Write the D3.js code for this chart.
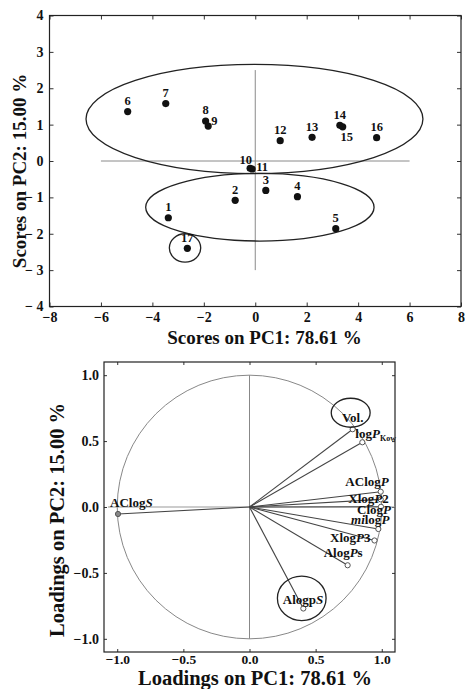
<!DOCTYPE html>
<html>
<head>
<meta charset="utf-8">
<script src="https://cdn.jsdelivr.net/npm/d3@7"></script>
<style>
  body { margin: 0; background: #fff; }
  svg text { font-family: "Liberation Serif", "DejaVu Serif", serif; font-weight: bold; fill: #111; }
</style>
</head>
<body>
<div id="chart"></div>
<script>
// score plot data (PC1, PC2)
const scoreIds = [1, 2, 3, 4, 5, 6, 7, 8, 9, 10, 11, 12, 13, 14, 15, 16, 17]
const scorePC1 = [-3.38, -0.78, 0.41, 1.64, 3.13, -4.96, -3.48, -1.93, -1.83, -0.2, -0.12, 0.97, 2.21, 3.29, 3.4, 4.72, -2.64]
const scorePC2 = [-1.56, -1.08, -0.81, -0.98, -1.86, 1.36, 1.58, 1.1, 0.96, -0.2, -0.22, 0.56, 0.65, 0.98, 0.94, 0.64, -2.4]

// group ellipses on the score plot: centre x, centre y, half width, half height
const groupCx = [-0.03, 0.18, -2.73]
const groupCy = [1.155, -1.27, -2.39]
const groupRx = [6.55, 4.44, 0.61]
const groupRy = [1.5, 0.93, 0.39]

const scoreTicksX = [-8, -6, -4, -2, 0, 2, 4, 6, 8]
const scoreTicksY = [-4, -3, -2, -1, 0, 1, 2, 3, 4]

// loading plot data
const loadNames = ["AClogS", "Vol.", "logPKow", "AClogP", "XlogP2", "ClogP", "milogP", "XlogP3", "AlogPs", "AlogpS"]
const loadPC1 = [-0.994, 0.78, 0.853, 0.992, 0.992, 0.994, 0.974, 0.945, 0.742, 0.407]
const loadPC2 = [-0.053, 0.59, 0.491, 0.116, 0.058, 0.002, -0.167, -0.254, -0.442, -0.77]
// label pieces: [text, style]  (i = italic, sub = subscript)
const loadLabels = [
  [["AClog", ""], ["S", "i"]],
  [["Vol.", ""]],
  [["log", ""], ["P", "i"], ["Kow", "sub"]],
  [["AClog", ""], ["P", "i"]],
  [["Xlog", ""], ["P", "i"], ["2", ""]],
  [["Clog", ""], ["P", "i"]],
  [["mi", "i"], ["log", ""], ["P", "i"]],
  [["Xlog", ""], ["P", "i"], ["3", ""]],
  [["Alog", ""], ["P", "i"], ["s", ""]],
  [["Alogp", ""], ["S", "i"]]
]
// highlight circles on loading plot
const markCx = [0.765, 0.395]
const markCy = [0.715, -0.693]
const markRx = [0.147, 0.184]
const markRy = [0.11, 0.169]

const loadTicks = [-1, -0.5, 0, 0.5, 1]

const W = 465, H = 689

const svg = d3.select("#chart").append("svg")
  .attr("width", W).attr("height", H)

// ---------- top: scores ----------
const x1 = d3.scaleLinear().domain([-8, 8]).range([49.5, 461])
const y1 = d3.scaleLinear().domain([-4, 4]).range([306.5, 15.5])

const g1 = svg.append("g")

const minusY = d => d < 0 ? "\u2212 " + (-d) : String(d)
const minusX = d => d < 0 ? "\u2212" + (-d) : String(d)

const ax1b = g1.append("g").attr("transform", `translate(0,${y1(-4)})`)
  .call(d3.axisBottom(x1).tickValues(scoreTicksX).tickFormat(minusX).tickSizeInner(-4).tickSizeOuter(0).tickPadding(6))
const ax1l = g1.append("g").attr("transform", `translate(${x1(-8)},0)`)
  .call(d3.axisLeft(y1).tickValues(scoreTicksY).tickFormat(minusY).tickSizeInner(-4).tickSizeOuter(0).tickPadding(6))
const ax1t = g1.append("g").attr("transform", `translate(0,${y1(4)})`)
  .call(d3.axisTop(x1).tickValues(scoreTicksX).tickFormat("").tickSizeInner(-4).tickSizeOuter(0))
const ax1r = g1.append("g").attr("transform", `translate(${x1(8)},0)`)
  .call(d3.axisRight(y1).tickValues(scoreTicksY).tickFormat("").tickSizeInner(-4).tickSizeOuter(0))

;[ax1b, ax1l, ax1t, ax1r].forEach(a => {
  a.select(".domain").remove()
  a.selectAll("line").attr("stroke", "#333")
  a.selectAll("text").attr("font-size", 14).attr("fill", "#111")
})

g1.append("rect")
  .attr("x", x1(-8)).attr("y", y1(4))
  .attr("width", x1(8) - x1(-8)).attr("height", y1(-4) - y1(4))
  .attr("fill", "none").attr("stroke", "#222").attr("stroke-width", 1.2)

// cross lines
g1.append("line")
  .attr("x1", x1(-6)).attr("x2", x1(6)).attr("y1", y1(0)).attr("y2", y1(0))
  .attr("stroke", "#8a8a8a").attr("stroke-width", 1)
g1.append("line")
  .attr("x1", x1(0)).attr("x2", x1(0)).attr("y1", y1(2.5)).attr("y2", y1(-3))
  .attr("stroke", "#8a8a8a").attr("stroke-width", 1)

// group ellipses
g1.selectAll("ellipse.grp")
  .data(groupCx.map((c, i) => ({ cx: c, cy: groupCy[i], rx: groupRx[i], ry: groupRy[i] })))
  .enter().append("ellipse")
  .attr("class", "grp")
  .attr("cx", d => x1(d.cx)).attr("cy", d => y1(d.cy))
  .attr("rx", d => x1(d.rx) - x1(0)).attr("ry", d => y1(0) - y1(d.ry))
  .attr("fill", "none").attr("stroke", "#222").attr("stroke-width", 1.3)

const scores = scoreIds.map((id, i) => ({ id, pc1: scorePC1[i], pc2: scorePC2[i] }))

g1.selectAll("circle.pt")
  .data(scores)
  .enter().append("circle")
  .attr("class", "pt")
  .attr("cx", d => x1(d.pc1)).attr("cy", d => y1(d.pc2))
  .attr("r", 3.6)
  .attr("fill", "#111")

// label placement: default centred above the dot
const nudge = {
  9: { anchor: "start", dx: 3, dy: -1 },
  10: { anchor: "end", dx: 2, dy: -4 },
  11: { anchor: "start", dx: 4, dy: 2 },
  15: { anchor: "middle", dx: 4, dy: 14 }
}
g1.selectAll("text.lbl")
  .data(scores)
  .enter().append("text")
  .attr("class", "lbl")
  .attr("x", d => x1(d.pc1) + (nudge[d.id] ? nudge[d.id].dx : 0))
  .attr("y", d => y1(d.pc2) + (nudge[d.id] ? nudge[d.id].dy : -6.5))
  .attr("text-anchor", d => nudge[d.id] ? nudge[d.id].anchor : "middle")
  .attr("font-size", 12.5)
  .text(d => d.id)

g1.append("text")
  .attr("x", 264.5).attr("y", 344)
  .attr("text-anchor", "middle")
  .attr("font-size", 19)
  .text("Scores on PC1: 78.61 %")

g1.append("text")
  .attr("transform", `translate(26, ${(y1(4) + y1(-4)) / 2 + 10}) rotate(-90)`)
  .attr("text-anchor", "middle")
  .attr("font-size", 19)
  .text("Scores on PC2: 15.00 %")

// ---------- bottom: loadings ----------
const x2 = d3.scaleLinear().domain([-1.1, 1.1]).range([104, 395])
const y2 = d3.scaleLinear().domain([-1.1, 1.1]).range([652, 362])

const g2 = svg.append("g")

const fmt = d3.format(".1f")
const ax2b = g2.append("g").attr("transform", `translate(0,${y2(-1.1)})`)
  .call(d3.axisBottom(x2).tickValues(loadTicks).tickFormat(fmt).tickSizeInner(-3).tickSizeOuter(0).tickPadding(2))
const ax2l = g2.append("g").attr("transform", `translate(${x2(-1.1)},0)`)
  .call(d3.axisLeft(y2).tickValues(loadTicks).tickFormat(fmt).tickSizeInner(-3).tickSizeOuter(0).tickPadding(5))
const ax2t = g2.append("g").attr("transform", `translate(0,${y2(1.1)})`)
  .call(d3.axisTop(x2).tickValues(loadTicks).tickFormat("").tickSizeInner(-3).tickSizeOuter(0))
const ax2r = g2.append("g").attr("transform", `translate(${x2(1.1)},0)`)
  .call(d3.axisRight(y2).tickValues(loadTicks).tickFormat("").tickSizeInner(-3).tickSizeOuter(0))

;[ax2b, ax2l, ax2t, ax2r].forEach(a => {
  a.select(".domain").remove()
  a.selectAll("line").attr("stroke", "#333")
  a.selectAll("text").attr("font-size", 14).attr("fill", "#111")
})
ax2b.selectAll("text").attr("font-size", 13.5)

g2.append("rect")
  .attr("x", x2(-1.1)).attr("y", y2(1.1))
  .attr("width", x2(1.1) - x2(-1.1)).attr("height", y2(-1.1) - y2(1.1))
  .attr("fill", "none").attr("stroke", "#222").attr("stroke-width", 1.2)

// unit circle
g2.append("ellipse")
  .attr("cx", x2(0)).attr("cy", y2(0))
  .attr("rx", x2(1) - x2(0)).attr("ry", y2(0) - y2(1))
  .attr("fill", "none").attr("stroke", "#888").attr("stroke-width", 1)

g2.append("line")
  .attr("x1", x2(-1.07)).attr("x2", x2(1.1)).attr("y1", y2(0)).attr("y2", y2(0))
  .attr("stroke", "#999").attr("stroke-width", 1)
g2.append("line")
  .attr("x1", x2(0)).attr("x2", x2(0)).attr("y1", y2(1)).attr("y2", y2(-1))
  .attr("stroke", "#888").attr("stroke-width", 1)

const loads = loadNames.map((n, i) => ({ name: n, pc1: loadPC1[i], pc2: loadPC2[i], parts: loadLabels[i] }))

g2.selectAll("line.vec")
  .data(loads)
  .enter().append("line")
  .attr("class", "vec")
  .attr("x1", x2(0)).attr("y1", y2(0))
  .attr("x2", d => x2(d.pc1)).attr("y2", d => y2(d.pc2))
  .attr("stroke", "#444").attr("stroke-width", 1.1)

g2.selectAll("circle.ld")
  .data(loads)
  .enter().append("circle")
  .attr("class", "ld")
  .attr("cx", d => x2(d.pc1)).attr("cy", d => y2(d.pc2))
  .attr("r", 2.6)
  .attr("fill", d => d.name === "AClogS" ? "#888" : "#fff")
  .attr("stroke", "#555").attr("stroke-width", 1)

// label placement relative to the vector end (pixels)
const loadNudge = {
  "AClogS": { anchor: "start", dx: -8, dy: -7 },
  "Vol.": { anchor: "middle", dx: 0, dy: -7 },
  "logPKow": { anchor: "start", dx: -7, dy: -4 },
  "AClogP": { anchor: "end", dx: 8, dy: -6 },
  "XlogP2": { anchor: "end", dx: 8, dy: 4 },
  "ClogP": { anchor: "end", dx: 10, dy: 7 },
  "milogP": { anchor: "end", dx: 11, dy: -5 },
  "XlogP3": { anchor: "end", dx: -4, dy: 2 },
  "AlogPs": { anchor: "end", dx: 15, dy: -8 },
  "AlogpS": { anchor: "end", dx: 20, dy: -5 }
}

const lt = g2.selectAll("text.ldl")
  .data(loads)
  .enter().append("text")
  .attr("class", "ldl")
  .attr("x", d => x2(d.pc1) + loadNudge[d.name].dx)
  .attr("y", d => y2(d.pc2) + loadNudge[d.name].dy)
  .attr("text-anchor", d => loadNudge[d.name].anchor)
  .attr("font-size", 13)

lt.each(function(d) {
  const t = d3.select(this)
  d.parts.forEach(p => {
    const s = t.append("tspan").text(p[0])
    if (p[1] === "i") s.attr("font-style", "italic")
    if (p[1] === "sub") s.attr("font-size", 8).attr("dy", 3)
  })
})

g2.selectAll("ellipse.mark")
  .data(markCx.map((c, i) => ({ cx: c, cy: markCy[i], rx: markRx[i], ry: markRy[i] })))
  .enter().append("ellipse")
  .attr("class", "mark")
  .attr("cx", d => x2(d.cx)).attr("cy", d => y2(d.cy))
  .attr("rx", d => x2(d.rx) - x2(0)).attr("ry", d => y2(0) - y2(d.ry))
  .attr("fill", "none").attr("stroke", "#222").attr("stroke-width", 1.3)

g2.append("text")
  .attr("x", 255).attr("y", 684.5)
  .attr("text-anchor", "middle")
  .attr("font-size", 20.5)
  .text("Loadings on PC1: 78.61 %")

g2.append("text")
  .attr("transform", `translate(64, 520) rotate(-90)`)
  .attr("text-anchor", "middle")
  .attr("font-size", 20.5)
  .text("Loadings on PC2: 15.00 %")
</script>
</body>
</html>
